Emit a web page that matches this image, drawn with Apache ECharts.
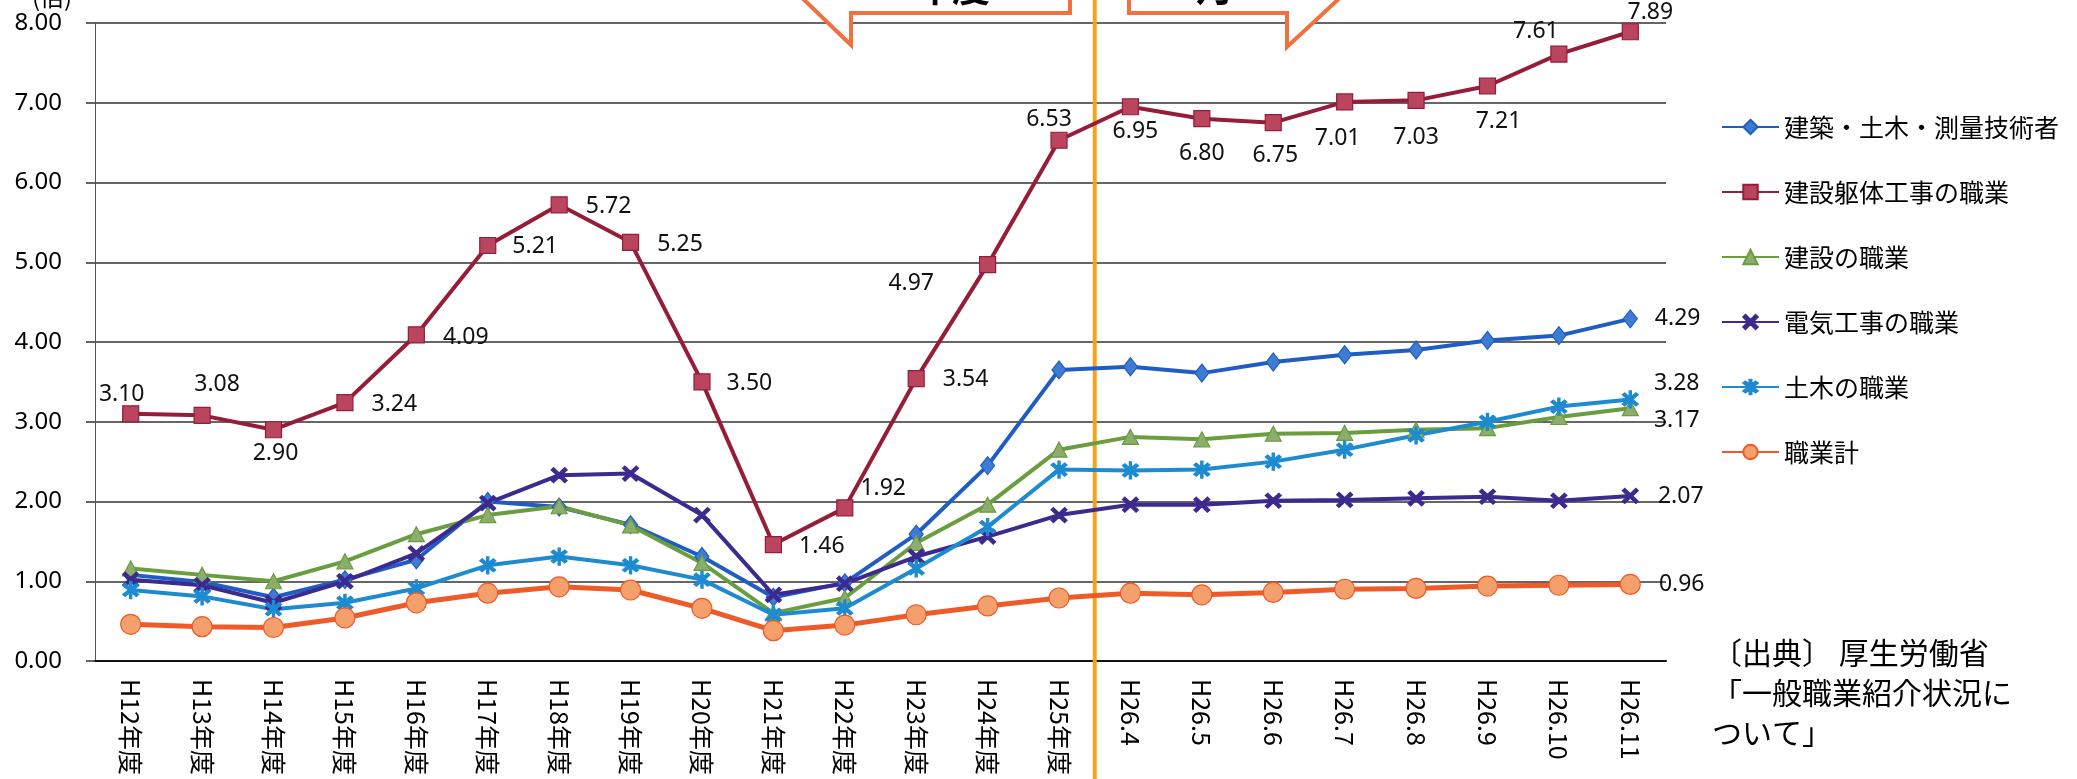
<!DOCTYPE html>
<html>
<head>
<meta charset="utf-8">
<script src="https://cdn.jsdelivr.net/npm/echarts@6.0.0/dist/echarts.min.js"></script>
<style>
  html, body { margin: 0; padding: 0; background: #fff; }
  #chart { width: 2077px; height: 779px; }
</style>
</head>
<body>
<div id="chart"></div>
<script>
// カテゴリ（年度・月）
const categories = ['H12年度', 'H13年度', 'H14年度', 'H15年度', 'H16年度', 'H17年度', 'H18年度', 'H19年度',
  'H20年度', 'H21年度', 'H22年度', 'H23年度', 'H24年度', 'H25年度',
  'H26.4', 'H26.5', 'H26.6', 'H26.7', 'H26.8', 'H26.9', 'H26.10', 'H26.11']
const yTicks = [0, 1, 2, 3, 4, 5, 6, 7, 8]

// 有効求人倍率
const gijutsu = [1.08, 0.99, 0.80, 1.02, 1.27, 2.00, 1.93, 1.71, 1.31, 0.80, 0.98, 1.59, 2.45, 3.65,
  3.69, 3.61, 3.75, 3.84, 3.90, 4.02, 4.08, 4.29]
const kutai = [3.10, 3.08, 2.90, 3.24, 4.09, 5.21, 5.72, 5.25, 3.50, 1.46, 1.92, 3.54, 4.97, 6.53,
  6.95, 6.80, 6.75, 7.01, 7.03, 7.21, 7.61, 7.89]
const kensetsu = [1.16, 1.08, 1.00, 1.25, 1.59, 1.83, 1.94, 1.70, 1.23, 0.60, 0.79, 1.48, 1.96, 2.65,
  2.81, 2.78, 2.85, 2.86, 2.90, 2.92, 3.06, 3.17]
const denki = [1.02, 0.95, 0.73, 1.00, 1.35, 1.98, 2.33, 2.35, 1.83, 0.83, 0.97, 1.31, 1.56, 1.83,
  1.96, 1.96, 2.01, 2.02, 2.04, 2.06, 2.01, 2.07]
const doboku = [0.89, 0.81, 0.65, 0.73, 0.91, 1.20, 1.31, 1.20, 1.02, 0.58, 0.66, 1.16, 1.68, 2.40,
  2.39, 2.40, 2.50, 2.65, 2.83, 3.00, 3.19, 3.28]
const shokugyoKei = [0.46, 0.43, 0.42, 0.54, 0.73, 0.85, 0.93, 0.89, 0.66, 0.38, 0.45, 0.58, 0.69, 0.79,
  0.85, 0.83, 0.86, 0.90, 0.91, 0.94, 0.95, 0.96]

// 躯体のラベル位置（見た目用）
const kutaiLabelPos = [
  ['top', [-9, 6]], ['top', [15, -6]], ['bottom', [2, -1]], ['right', [13, 2]], ['right', [13, 3]],
  ['right', [11, 1]], ['right', [13, 2]], ['right', [13, 2]], ['right', [11, 2]], ['right', [12, 2]],
  ['right', [2, -19]], ['right', [13, 1]], ['left', [-40, 19]], ['top', [-10, 4]],
  ['bottom', [5, 0]], ['bottom', [0, 10]], ['bottom', [2, 8]], ['bottom', [-7, 11]],
  ['bottom', [0, 12]], ['bottom', [11, 10]], ['top', [-23, 2]], ['top', [20, 6]],
]

const numFont = '"Noto Sans", "DejaVu Sans", sans-serif'
const jpFont = '"Noto Sans CJK JP", "Noto Sans", sans-serif'
const crossPath = 'path://M1.5,0L5,3.5L8.5,0L10,1.5L6.5,5L10,8.5L8.5,10L5,6.5L1.5,10L0,8.5L3.5,5L0,1.5Z'
const starPath = crossPath + 'M4.3,-1.5L5.7,-1.5L5.7,11.5L4.3,11.5Z'

const labelBase = { show: true, color: '#111', fontSize: 23, fontFamily: numFont, formatter: (p) => p.value.toFixed(2) }

// 最後の点だけラベル
const lastLabel = (arr, offset) => arr.map((v, i) =>
  i === arr.length - 1 ? { value: v, label: { ...labelBase, position: 'right', offset } } : v)

const makeLine = (name, data, color, symbol, symbolSize, fill, width = 4) => ({
  name,
  type: 'line',
  data,
  symbol,
  symbolSize,
  showAllSymbol: true,
  lineStyle: { color, width },
  itemStyle: { color: fill, borderColor: color, borderWidth: 1.2 },
  emphasis: { disabled: true },
  animation: false,
})

const chartDom = document.getElementById('chart')
const myChart = echarts.init(chartDom, null, { renderer: 'canvas' })

const option = {
  backgroundColor: '#ffffff',
  animation: false,
  grid: { left: 95, right: 411, top: 23, bottom: 118, containLabel: false, outerBoundsMode: 'none' },
  legend: {
    orient: 'vertical',
    left: 1716,
    top: 107,
    itemWidth: 57,
    itemHeight: 18,
    itemGap: 35,
    textStyle: { fontSize: 25, lineHeight: 30, color: '#000', fontFamily: jpFont },
    data: ['建築・土木・測量技術者', '建設躯体工事の職業', '建設の職業', '電気工事の職業', '土木の職業', '職業計'],
  },
  xAxis: {
    type: 'category',
    data: categories,
    boundaryGap: true,
    axisLine: { show: true, lineStyle: { color: '#111', width: 2 } },
    axisTick: { show: false },
    axisLabel: { rotate: -90, margin: 18, fontSize: 25, color: '#000', fontFamily: jpFont, interval: 0 },
    splitLine: { show: false },
  },
  yAxis: {
    type: 'value',
    min: yTicks[0],
    max: yTicks[yTicks.length - 1],
    interval: 1,
    axisLine: { show: true, lineStyle: { color: '#555', width: 1 } },
    axisTick: { show: true, length: 9, lineStyle: { color: '#333', width: 1.5 } },
    axisLabel: { margin: 33, fontSize: 24, color: '#000', fontFamily: numFont, formatter: (v) => v.toFixed(2) },
    splitLine: { show: true, lineStyle: { color: '#333', width: 1.5 } },
  },
  series: [
    makeLine('建築・土木・測量技術者', lastLabel(gijutsu, [12, 0]), '#1F5CC4', 'diamond', [14, 18], '#3E7BD2'),
    makeLine('建設躯体工事の職業', kutai.map((v, i) => ({
      value: v,
      label: { ...labelBase, position: kutaiLabelPos[i][0], offset: kutaiLabelPos[i][1] },
    })), '#961D3A', 'rect', 16, '#B9455F'),
    makeLine('建設の職業', lastLabel(kensetsu, [10, 12]), '#6A9D3E', 'triangle', [16, 15], '#8CAD6C'),
    makeLine('電気工事の職業', lastLabel(denki, [14, 1]), '#3D2A8F', crossPath, [16, 15], '#3D2A8F'),
    makeLine('土木の職業', lastLabel(doboku, [10, -16]), '#1E8BD0', starPath, [16, 17], '#1E8BD0'),
    makeLine('職業計', lastLabel(shokugyoKei, [13, 0]), '#EE5A28', 'circle', 20, '#F4A06C', 5),
  ],
}

option && myChart.setOption(option)

// 年度と月の境目（縦線）と吹き出し
const xa = myChart.convertToPixel({ xAxisIndex: 0 }, 13)
const xb = myChart.convertToPixel({ xAxisIndex: 0 }, 14)
const splitX = (xa + xb) / 2

myChart.setOption({
  graphic: [
    { type: 'line', z: 1, shape: { x1: splitX, y1: 0, x2: splitX, y2: 779 }, style: { stroke: '#F6A31C', lineWidth: 4 } },
    {
      type: 'polygon', z: 3,
      shape: { points: [[798, -6], [851, 45], [851, 13], [1070, 13], [1070, -6]] },
      style: { fill: '#fff', stroke: '#F26F3E', lineWidth: 4 },
    },
    {
      type: 'polygon', z: 3,
      shape: { points: [[1129, -6], [1129, 13], [1287, 13], [1287, 47], [1344, -6]] },
      style: { fill: '#fff', stroke: '#F26F3E', lineWidth: 4 },
    },
    { type: 'text', z: 4, style: { x: 952, y: 6, text: '年度', fill: '#000', font: 'bold 38px "Noto Sans CJK JP"', align: 'center', verticalAlign: 'bottom' } },
    { type: 'text', z: 4, style: { x: 1215, y: 6, text: '月', fill: '#000', font: 'bold 38px "Noto Sans CJK JP"', align: 'center', verticalAlign: 'bottom' } },
    { type: 'text', z: 4, style: { x: 52, y: 9, text: '(倍)', fill: '#000', font: '24px "Noto Sans CJK JP"', align: 'center', verticalAlign: 'bottom' } },
    {
      type: 'text', z: 4,
      style: {
        x: 1712, y: 633, text: '〔出典〕 厚生労働省\n「一般職業紹介状況に\nついて」',
        fill: '#000', font: '30px "Noto Sans CJK JP"', lineHeight: 40, verticalAlign: 'top',
      },
    },
  ],
})
</script>
</body>
</html>
